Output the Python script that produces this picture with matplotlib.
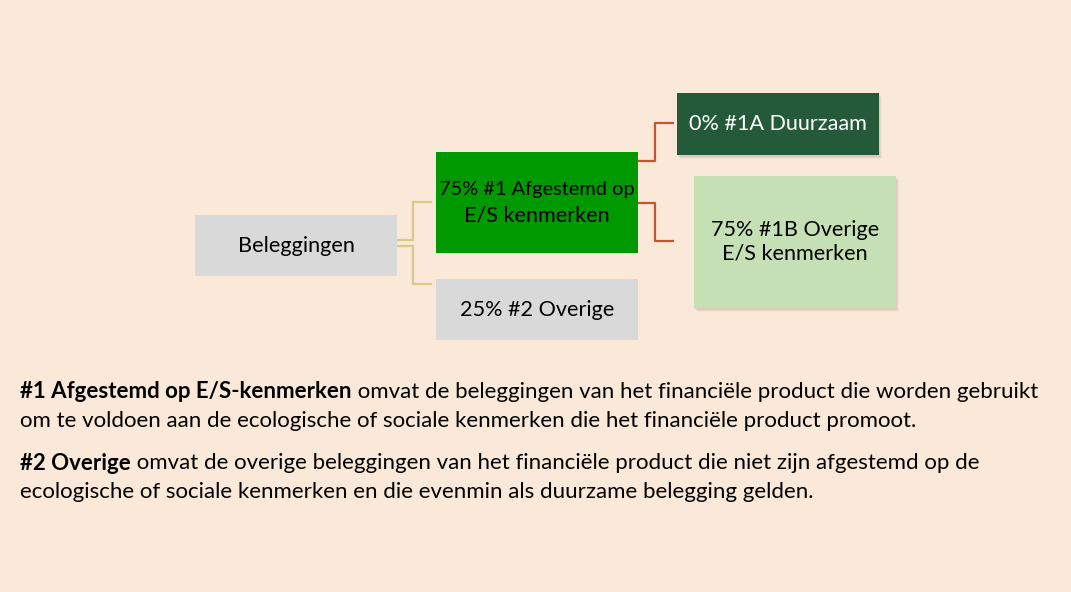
import matplotlib
matplotlib.use("Agg")
import matplotlib.pyplot as plt
from matplotlib.patches import Rectangle

# ---- data ----
root_label = "Beleggingen"
pct_aligned = 75
pct_other = 25
pct_sustainable = 0
pct_other_es = 75
label_aligned = "#1 Afgestemd op\nE/S kenmerken"
label_other = "#2 Overige"
label_sustainable = "#1A Duurzaam"
label_other_es = "#1B Overige\nE/S kenmerken"
para1_bold = "#1 Afgestemd op E/S-kenmerken"
para1_rest = [" omvat de beleggingen van het financiële product die worden gebruikt",
              "om te voldoen aan de ecologische of sociale kenmerken die het financiële product promoot."]
para2_bold = "#2 Overige"
para2_rest = [" omvat de overige beleggingen van het financiële product die niet zijn afgestemd op de",
              "ecologische of sociale kenmerken en die evenmin als duurzame belegging gelden."]

W, H = 1071, 592
FONT = ["Lato", "DejaVu Sans"]
fig = plt.figure(figsize=(W / 100, H / 100), dpi=100)
fig.patch.set_facecolor("#FAE8D8")
ax = fig.add_axes([0, 0, 1, 1])
ax.set_xlim(0, W)
ax.set_ylim(H, 0)
ax.axis("off")

BFS = 15.6


def box(x0, y0, x1, y1, color, text, tcolor="black", shadow=False, fs=BFS, first_fs=None):
    if shadow:
        for i, a in enumerate([0.10, 0.08, 0.06]):
            ax.add_patch(Rectangle((x0 + 1 + i, y0 + 2 + i), x1 - x0, y1 - y0,
                                   facecolor="#7a6a5a", alpha=a, lw=0, zorder=1))
    ax.add_patch(Rectangle((x0, y0), x1 - x0, y1 - y0, facecolor=color, lw=0, zorder=2))
    cx, cy = (x0 + x1) / 2, (y0 + y1) / 2
    if first_fs is None:
        ax.text(cx, cy, text, ha="center", va="center",
                color=tcolor, fontsize=fs, family=FONT, zorder=3, linespacing=1.25)
    else:
        l1, l2 = text.split("\n")
        ax.text(cx, cy - 13, l1, ha="center", va="center",
                color=tcolor, fontsize=first_fs, family=FONT, zorder=3)
        ax.text(cx, cy + 13, l2, ha="center", va="center",
                color=tcolor, fontsize=fs, family=FONT, zorder=3)


box(195, 215, 397, 276, "#D9D9D9", root_label)
box(436, 152, 638, 253, "#009900", f"{pct_aligned}% {label_aligned}", first_fs=14.4)
box(436, 279, 638, 340, "#D9D9D9", f"{pct_other}% {label_other}")
box(677, 93, 879, 155, "#245A3A", f"{pct_sustainable}% {label_sustainable}", tcolor="white", shadow=True)
box(694, 176, 896, 308, "#C5E0B4", f"{pct_other_es}% {label_other_es}", shadow=True)

# connectors
tan = "#D8C88A"
ax.plot([397, 413, 413, 431], [240, 240, 202, 202], color=tan, lw=1.6, zorder=1)
ax.plot([397, 413, 413, 431], [246, 246, 284, 284], color=tan, lw=1.6, zorder=1)
red = "#C9532F"
ax.plot([638, 655, 655, 673], [161, 161, 123, 123], color=red, lw=1.6, zorder=1)
ax.plot([638, 655, 655, 673], [203, 203, 241, 241], color=red, lw=1.6, zorder=1)

# paragraphs
fig.canvas.draw()
renderer = fig.canvas.get_renderer()
pfs = 16.0


def para(y, bold, rest):
    t = ax.text(20, y, bold, ha="left", va="center", fontsize=pfs, family=FONT,
                fontweight="bold", color="black")
    bb = t.get_window_extent(renderer=renderer)
    xend = ax.transData.inverted().transform((bb.x1, bb.y0))[0]
    ax.text(xend, y, rest[0], ha="left", va="center", fontsize=pfs, family=FONT, color="black")
    ax.text(20, y + 29, rest[1], ha="left", va="center", fontsize=pfs, family=FONT, color="black")


para(392, para1_bold, para1_rest)
para(463, para2_bold, para2_rest)

fig.savefig("out.png", dpi=100, facecolor=fig.get_facecolor())
